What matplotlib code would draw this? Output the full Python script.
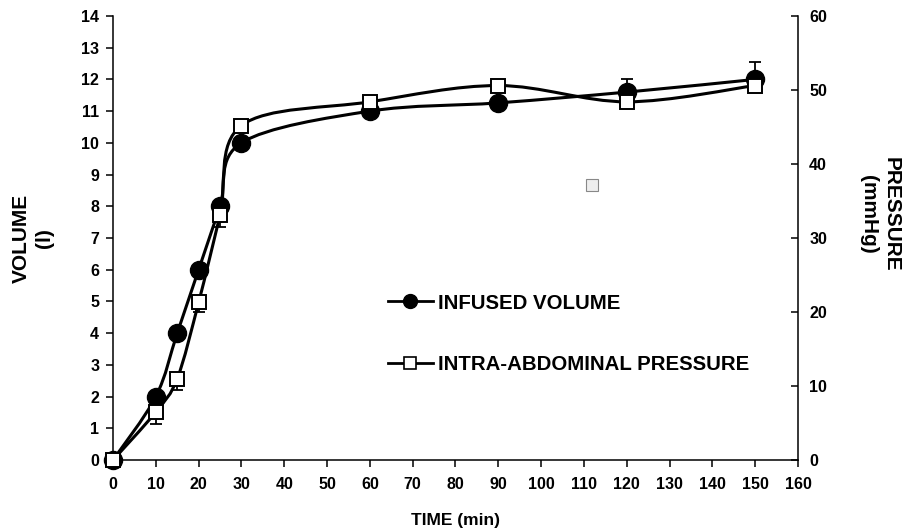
import numpy as np
import matplotlib
matplotlib.use('Agg')
import matplotlib.pyplot as plt
from matplotlib.path import Path
from matplotlib.patches import PathPatch
from matplotlib.lines import Line2D

plt.rcParams['font.family'] = ['Liberation Sans', 'DejaVu Sans']
plt.rcParams['font.weight'] = 'bold'

# data
time_min = [0, 10, 15, 20, 25, 30, 60, 90, 120, 150]
volume_l = [0, 2.0, 4.0, 6.0, 8.0, 10.0, 11.0, 11.26, 11.6, 12.0]
volume_err_up = [0, 0, 0, 0, 0, 0, 0, 0, 0.42, 0.55]
pressure_mmhg = [0, 6.5, 11.0, 21.3, 33.1, 45.2, 48.4, 50.6, 48.4, 50.6]
pressure_err_down = [0, 1.6, 1.6, 1.3, 1.6, 0, 0, 0, 0, 0]

x_ticks = list(range(0, 161, 10))
vol_ticks = list(range(0, 15))
pres_ticks = list(range(0, 61, 10))

# small stray icon seen in the source image
icon_time, icon_volume = 112, 8.67


def smooth_path(x, y):
    # excel-like smoothed line: cubic bezier through the points
    p = np.column_stack([x, y]).astype(float)
    verts = [p[0]]
    codes = [Path.MOVETO]
    n = len(p)
    for i in range(n - 1):
        p0 = p[i - 1] if i > 0 else p[i]
        p3 = p[i + 2] if i + 2 < n else p[i + 1]
        c1 = p[i] + (p[i + 1] - p0) / 6.0
        c2 = p[i + 1] - (p3 - p[i]) / 6.0
        verts += [c1, c2, p[i + 1]]
        codes += [Path.CURVE4] * 3
    return Path(verts, codes)


fig = plt.figure(figsize=(9.07, 5.29), dpi=100)
ax = fig.add_axes([0.1246, 0.1304, 0.7552, 0.8394])
ax2 = ax.twinx()

lw = 2.2
ax.add_patch(PathPatch(smooth_path(time_min, volume_l), fill=False, lw=lw, color='black', zorder=2))
t = np.array(time_min)
ve = np.array(volume_err_up)
m = ve > 0
ax.errorbar(t[m], np.array(volume_l)[m], yerr=[np.zeros(m.sum()), ve[m]], fmt='none',
            ecolor='black', elinewidth=1.3, capsize=4.3, capthick=1.3, zorder=2)
ax.plot(time_min, volume_l, 'o', ms=13, color='black', zorder=3, clip_on=False)
ax.plot([icon_time], [icon_volume], 's', ms=9, mfc='#eeeeee', mec='#888888', mew=0.8, zorder=1)

ax2.add_patch(PathPatch(smooth_path(time_min, pressure_mmhg), fill=False, lw=lw, color='black', zorder=2))
pe = np.array(pressure_err_down)
m2 = pe > 0
ax2.errorbar(t[m2], np.array(pressure_mmhg)[m2], yerr=[pe[m2], np.zeros(m2.sum())], fmt='none',
             ecolor='black', elinewidth=1.3, capsize=4.3, capthick=1.3, zorder=2)
ax2.plot(time_min, pressure_mmhg, 's', ms=10, mfc='white', mec='black', mew=1.4, zorder=3, clip_on=False)

ax.set_xlim(0, 160)
ax.set_ylim(0, 14)
ax2.set_ylim(0, 60)
ax.set_xticks(x_ticks)
ax.set_yticks(vol_ticks)
ax2.set_yticks(pres_ticks)

for a in (ax, ax2):
    a.spines['top'].set_visible(False)
    for s in a.spines.values():
        s.set_linewidth(1.1)
ax.spines['right'].set_visible(False)
ax2.spines['left'].set_visible(False)
ax2.spines['bottom'].set_visible(False)

ax.tick_params(axis='both', labelsize=11.5, width=1.1, length=5, direction='out', pad=5)
ax.tick_params(axis='x', pad=7)
ax2.tick_params(axis='y', labelsize=11.5, width=1.1, length=5, direction='in', pad=8)
for lab in ax.get_xticklabels() + ax.get_yticklabels() + ax2.get_yticklabels():
    lab.set_fontweight('bold')

ax.set_xlabel('TIME (min)', fontsize=12.5, fontweight='bold', labelpad=15)
fig.text(0.036, 0.55, 'VOLUME\n(l)', rotation=90, ha='center', va='center',
         multialignment='center', fontsize=15, fontweight='bold', linespacing=1.25)
fig.text(0.970, 0.595, 'PRESSURE\n(mmHg)', rotation=-90, ha='center', va='center',
         multialignment='center', fontsize=15, fontweight='bold', linespacing=1.25)

handles = [
    Line2D([], [], color='black', lw=2, marker='o', ms=10, mfc='black', mec='black'),
    Line2D([], [], color='black', lw=2, marker='s', ms=8, mfc='white', mec='black', mew=1.2),
]
ax2.legend(handles, ['INFUSED VOLUME', 'INTRA-ABDOMINAL PRESSURE'], loc='upper left',
           bbox_to_anchor=(0.401, 0.375), frameon=False,
           prop={'weight': 'bold', 'size': 14.7}, handlelength=2.2, handletextpad=0.25,
           labelspacing=2.1, borderpad=0, borderaxespad=0)

fig.savefig('out.png', dpi=100)
